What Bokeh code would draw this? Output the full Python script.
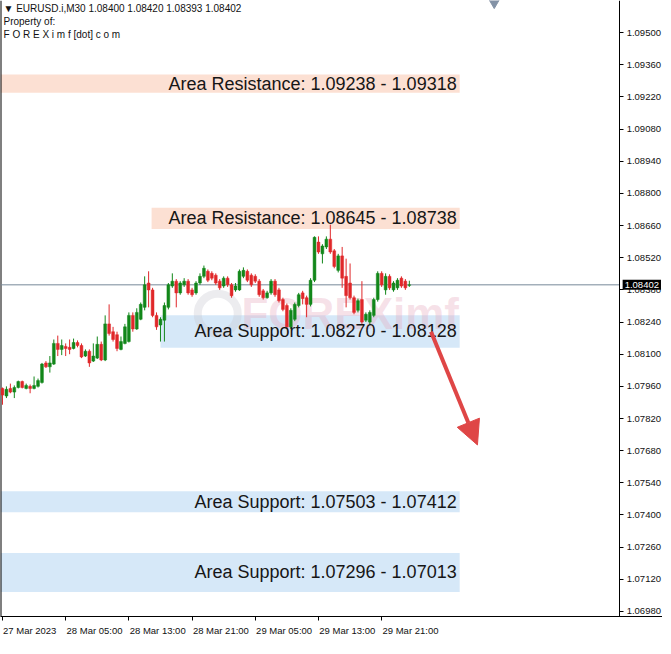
from bokeh.plotting import figure
from bokeh.models import (Range1d, FixedTicker, Label, Arrow, NormalHead, LinearAxis,
                          ColumnDataSource, PrintfTickFormatter)
from bokeh.core.properties import value
from bokeh.embed import file_html
from bokeh.resources import INLINE

# ---------------- data ----------------
opens = [
    1.07951, 1.07918, 1.07951, 1.07935, 1.07955, 1.07981, 1.07951, 1.07960, 1.07951, 1.07960,
    1.07977, 1.08062, 1.08045, 1.08057, 1.08147, 1.08121, 1.08134, 1.08130, 1.08125, 1.08151,
    1.08138, 1.08092, 1.08113, 1.08070, 1.08083, 1.08143, 1.08075, 1.08232, 1.08198, 1.08185,
    1.08121, 1.08147, 1.08155, 1.08269, 1.08210, 1.08252, 1.08304, 1.08410, 1.08380, 1.08269,
    1.08227, 1.08248, 1.08304, 1.08397, 1.08418, 1.08367, 1.08402, 1.08418, 1.08380, 1.08367,
    1.08410, 1.08439, 1.08461, 1.08452, 1.08444, 1.08418, 1.08397, 1.08431, 1.08402, 1.08380,
    1.08380, 1.08439, 1.08461, 1.08444, 1.08439, 1.08418, 1.08376, 1.08346, 1.08367, 1.08418,
    1.08380, 1.08338, 1.08312, 1.08219, 1.08252, 1.08312, 1.08367, 1.08346, 1.08317, 1.08422,
    1.08588, 1.08537, 1.08567, 1.08601, 1.08550, 1.08465, 1.08528, 1.08439, 1.08410, 1.08346,
    1.08291, 1.08338, 1.08248, 1.08240, 1.08269, 1.08338, 1.08452, 1.08380, 1.08439, 1.08380,
    1.08389, 1.08431, 1.08418, 1.08400]

highs = [
    1.07955, 1.07960, 1.07972, 1.07964, 1.07985, 1.07985, 1.07972, 1.07968, 1.08003, 1.07994,
    1.08062, 1.08070, 1.08092, 1.08164, 1.08181, 1.08164, 1.08147, 1.08164, 1.08168, 1.08160,
    1.08147, 1.08121, 1.08121, 1.08147, 1.08177, 1.08155, 1.08269, 1.08317, 1.08219, 1.08198,
    1.08177, 1.08232, 1.08282, 1.08282, 1.08300, 1.08325, 1.08439, 1.08461, 1.08389, 1.08282,
    1.08261, 1.08325, 1.08410, 1.08452, 1.08427, 1.08418, 1.08431, 1.08427, 1.08389, 1.08418,
    1.08452, 1.08486, 1.08469, 1.08461, 1.08452, 1.08427, 1.08439, 1.08439, 1.08410, 1.08410,
    1.08469, 1.08478, 1.08469, 1.08452, 1.08448, 1.08427, 1.08384, 1.08376, 1.08427, 1.08427,
    1.08389, 1.08346, 1.08321, 1.08300, 1.08325, 1.08367, 1.08376, 1.08355, 1.08431, 1.08613,
    1.08613, 1.08579, 1.08613, 1.08664, 1.08558, 1.08537, 1.08567, 1.08516, 1.08495, 1.08355,
    1.08342, 1.08418, 1.08282, 1.08291, 1.08346, 1.08461, 1.08461, 1.08452, 1.08448, 1.08418,
    1.08431, 1.08439, 1.08427, 1.08420]

lows = [
    1.07880, 1.07909, 1.07930, 1.07909, 1.07951, 1.07951, 1.07947, 1.07930, 1.07947, 1.07955,
    1.07972, 1.08040, 1.08020, 1.08053, 1.08092, 1.08096, 1.08092, 1.08100, 1.08121, 1.08130,
    1.08083, 1.08088, 1.08045, 1.08066, 1.08079, 1.08070, 1.08070, 1.08181, 1.08155, 1.08113,
    1.08117, 1.08143, 1.08151, 1.08198, 1.08206, 1.08248, 1.08291, 1.08304, 1.08261, 1.08206,
    1.08155, 1.08155, 1.08295, 1.08389, 1.08304, 1.08359, 1.08393, 1.08359, 1.08350, 1.08359,
    1.08402, 1.08431, 1.08414, 1.08422, 1.08402, 1.08380, 1.08389, 1.08393, 1.08346, 1.08372,
    1.08376, 1.08431, 1.08414, 1.08393, 1.08410, 1.08350, 1.08338, 1.08342, 1.08359, 1.08350,
    1.08325, 1.08287, 1.08210, 1.08210, 1.08244, 1.08304, 1.08317, 1.08261, 1.08308, 1.08414,
    1.08537, 1.08495, 1.08558, 1.08537, 1.08474, 1.08456, 1.08389, 1.08304, 1.08338, 1.08274,
    1.08282, 1.08232, 1.08240, 1.08227, 1.08261, 1.08329, 1.08393, 1.08359, 1.08380, 1.08372,
    1.08380, 1.08389, 1.08380, 1.08393]

closes = [
    1.07922, 1.07947, 1.07935, 1.07955, 1.07981, 1.07955, 1.07964, 1.07951, 1.07964, 1.07985,
    1.08057, 1.08045, 1.08062, 1.08147, 1.08121, 1.08138, 1.08125, 1.08121, 1.08151, 1.08138,
    1.08088, 1.08113, 1.08062, 1.08092, 1.08143, 1.08075, 1.08232, 1.08190, 1.08164, 1.08125,
    1.08155, 1.08219, 1.08269, 1.08210, 1.08282, 1.08317, 1.08402, 1.08380, 1.08269, 1.08219,
    1.08252, 1.08312, 1.08402, 1.08418, 1.08367, 1.08410, 1.08418, 1.08367, 1.08359, 1.08410,
    1.08439, 1.08474, 1.08422, 1.08431, 1.08410, 1.08389, 1.08431, 1.08402, 1.08355, 1.08397,
    1.08461, 1.08465, 1.08422, 1.08402, 1.08418, 1.08359, 1.08346, 1.08367, 1.08418, 1.08359,
    1.08333, 1.08295, 1.08219, 1.08291, 1.08317, 1.08359, 1.08342, 1.08317, 1.08422, 1.08609,
    1.08545, 1.08571, 1.08601, 1.08545, 1.08482, 1.08528, 1.08431, 1.08355, 1.08346, 1.08282,
    1.08333, 1.08240, 1.08274, 1.08282, 1.08338, 1.08452, 1.08402, 1.08439, 1.08389, 1.08410,
    1.08422, 1.08397, 1.08389, 1.08402]

current_price = 1.08402
header_lines = ["\u25bc EURUSD.i,M30  1.08400 1.08420 1.08393 1.08402",
                "Property of:",
                "F O R E X i m f [dot] c o m"]

time_tick_positions = [0, 16, 32, 48, 64, 80, 96]
time_tick_labels = ["27 Mar 2023", "28 Mar 05:00", "28 Mar 13:00", "28 Mar 21:00",
                    "29 Mar 05:00", "29 Mar 13:00", "29 Mar 21:00"]
# half label widths (in bars) so that centred axis labels start at their tick
label_half_widths = [6.9, 7.3, 7.3, 7.3, 7.3, 7.3, 7.3]

price_ticks = [1.06980, 1.07120, 1.07260, 1.07400, 1.07540, 1.07680, 1.07820,
               1.07960, 1.08100, 1.08240, 1.08380, 1.08520, 1.08660, 1.08800,
               1.08940, 1.09080, 1.09220, 1.09360, 1.09500]

zone_labels = ["Area Resistance: 1.09238 - 1.09318",
               "Area Resistance: 1.08645 - 1.08738",
               "Area Support: 1.08270 - 1.08128",
               "Area Support: 1.07503 - 1.07412",
               "Area Support: 1.07296 - 1.07013"]
zone_top = [1.09318, 1.08738, 1.08270, 1.07503, 1.07235]
zone_bottom = [1.09238, 1.08645, 1.08128, 1.07412, 1.07065]
zone_start = [-0.5, 37.75, 40.0, -0.5, -0.5]
zone_end = [115.75, 115.75, 115.75, 115.75, 115.75]
zone_kind = ["resistance", "resistance", "support", "support", "support"]

arrow_x = [108.5, 120.25]
arrow_y = [1.08198, 1.07705]

watermark_x = 60.5
watermark_y = 1.08276
watermark_logo_x = 54.5

# chart window: price scale sits at bar 156.25, view extends past it for the labels
x_start, axis_x, x_end = -0.5, 156.25, 167.1
y_start, y_end = 1.06958, 1.09640

# ---------------- figure ----------------
p = figure(width=662, height=638, output_backend="svg", toolbar_location=None,
           x_range=Range1d(x_start, x_end), y_range=Range1d(y_start, y_end),
           y_axis_location=None,
           min_border_left=0, min_border_top=0, min_border_right=0, min_border_bottom=0)
p.xgrid.visible = False
p.ygrid.visible = False
p.outline_line_color = None
p.background_fill_color = "white"
p.border_fill_color = "white"

FONT = "Liberation Sans"

# price axis, drawn at the end of the chart area
yax = LinearAxis(fixed_location=axis_x)
yax.ticker = FixedTicker(ticks=price_ticks)
yax.formatter = PrintfTickFormatter(format="%.5f")
yax.major_tick_out = 4
yax.major_tick_in = 0
yax.minor_tick_out = 0
yax.minor_tick_in = 0
yax.major_label_standoff = 3
yax.major_label_text_font = FONT
yax.major_label_text_font_size = "9.5px"
yax.major_label_text_color = "#111111"
yax.axis_line_color = "black"
yax.major_tick_line_color = "black"
p.add_layout(yax, "right")

# x axis (below): tick marks at the bar times (minor ticks), labels centred
# half a label to the right so that they read left-aligned like MT4
label_centres = [t + h for t, h in zip(time_tick_positions, label_half_widths)]
xax = p.xaxis[0]
xax.ticker = FixedTicker(ticks=label_centres, minor_ticks=time_tick_positions)
xax.major_label_overrides = {c: lab for c, lab in zip(label_centres, time_tick_labels)}
xax.major_tick_out = 0
xax.major_tick_in = 0
xax.minor_tick_out = 4
xax.minor_tick_in = 0
xax.minor_tick_line_color = "black"
xax.major_label_standoff = 4
xax.major_label_text_font = FONT
xax.major_label_text_font_size = "9.5px"
xax.major_label_text_color = "#111111"
xax.axis_line_color = "black"

# zones
zone_colors = ["#fce0d3" if k == "resistance" else "#d6e8f8" for k in zone_kind]
zone_src = ColumnDataSource(dict(
    left=zone_start, right=zone_end, top=zone_top, bottom=zone_bottom,
    color=zone_colors, label=zone_labels,
    mid=[(t + b) / 2 for t, b in zip(zone_top, zone_bottom)]))
p.quad(left="left", right="right", top="top", bottom="bottom", fill_color="color",
       line_color=None, source=zone_src)

# watermark
p.scatter(x=[watermark_logo_x], y=[watermark_y], marker="circle", size=40,
          fill_color=None, line_color="#c8c8d2", line_width=8, line_alpha=0.35)
p.text(x=[watermark_x], y=[watermark_y], text=["FOREXimf"], text_font=value(FONT),
       text_font_style="bold", text_font_size="44px", text_color="#e7a9bd",
       text_alpha=0.35, text_baseline="middle", text_align="left")

# left border and bid line
p.vspan(x=[x_start], line_color="black", line_width=2)
p.segment(x0=[x_start], y0=[current_price], x1=[axis_x], y1=[current_price],
          line_color="#778899", line_width=1)

# candles
idx = list(range(len(closes)))
up = [c >= o for o, c in zip(opens, closes)]
col = ["#12871a" if u else "#e0282a" for u in up]
csrc = ColumnDataSource(dict(
    x=idx, high=highs, low=lows, color=col,
    top=[max(o, c) for o, c in zip(opens, closes)],
    bottom=[min(o, c) for o, c in zip(opens, closes)]))
p.segment(x0="x", y0="low", x1="x", y1="high", line_color="color", line_width=1, source=csrc)
p.vbar(x="x", top="top", bottom="bottom", width=0.72, fill_color="color",
       line_color="color", line_width=0.5, source=csrc)

# zone texts
p.text(x="right", y="mid", text="label", source=zone_src, x_offset=-3,
       text_align="right", text_baseline="middle", text_font=value(FONT),
       text_font_size="18px", text_color="#161616")

# header
for i, line in enumerate(header_lines):
    p.text(x=[x_start], y=[y_end], text=[line], x_offset=3, y_offset=8 + 13 * i,
           text_align="left", text_baseline="middle", text_font=value(FONT),
           text_font_size="10px", text_color="#111111")

# chart-shift marker
p.scatter(x=[124.5], y=[y_end], marker="inverted_triangle", size=14,
          fill_color="#8392a6", line_color="#8392a6")

# arrow
arrow_color = "#df4646"
p.add_layout(Arrow(x_start=arrow_x[0], y_start=arrow_y[0], x_end=arrow_x[1], y_end=arrow_y[1],
                   line_color=arrow_color, line_width=4,
                   end=NormalHead(size=24, fill_color=arrow_color, line_color=arrow_color)))

# current price label on the price scale
p.add_layout(Label(x=axis_x, y=current_price, text="%.5f" % current_price, x_offset=3,
                   text_align="left", text_baseline="middle", text_font=FONT,
                   text_font_size="9.5px", text_color="white", level="overlay",
                   background_fill_color="black", padding=2))

open("out.html", "w").write(file_html(p, INLINE))
